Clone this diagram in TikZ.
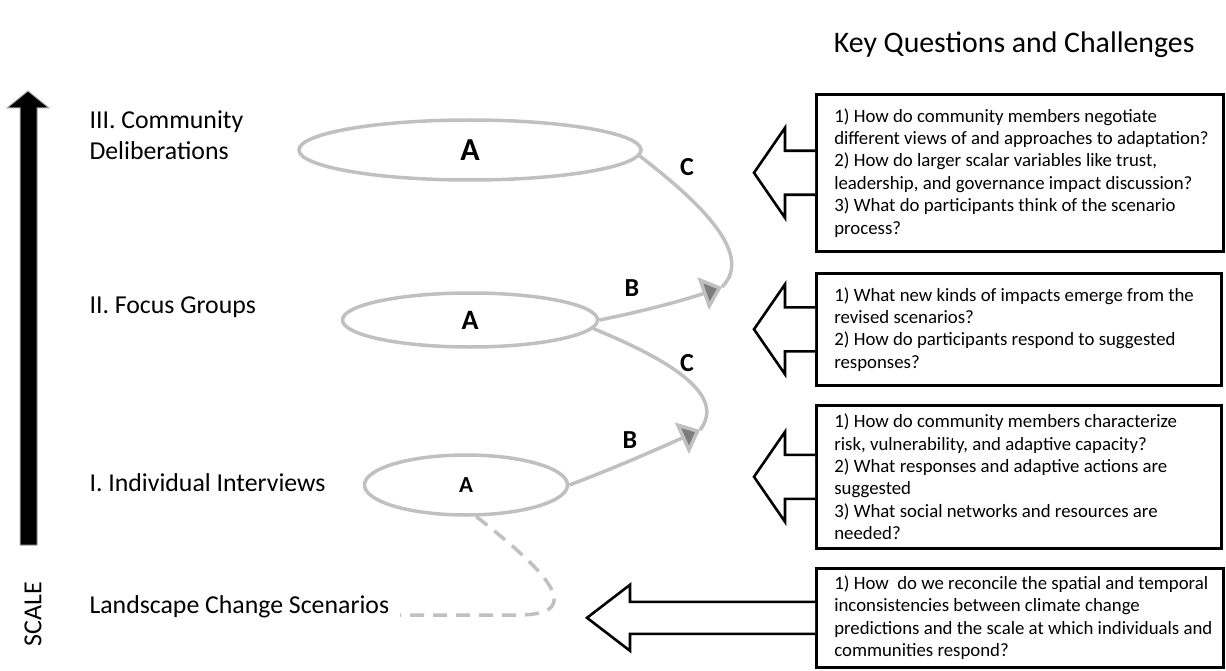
\documentclass[tikz,border=0pt]{standalone}
\usepackage{fontspec}
\setmainfont{Carlito}
\usetikzlibrary{calc,shapes.geometric,arrows.meta}
\definecolor{lgray}{RGB}{192,192,192}
\definecolor{hgray}{RGB}{125,125,125}
\newcommand\qline[1]{\mbox{#1}}
\begin{document}
\begin{tikzpicture}[x=1pt,y=-1pt,
  qbox/.style={draw=black, line width=2.6pt, anchor=north west, inner xsep=18pt, inner ysep=0pt,
    align=flush left, text width=#1, font=\fontsize{18.8}{22.4}\selectfont},
  lvl/.style={anchor=west, align=flush left, font=\fontsize{25.8}{31}\selectfont},
  oval/.style={ellipse, draw=lgray, line width=3.5pt, inner sep=0pt},
  lett/.style={font=\fontsize{26}{26}\selectfont\bfseries},
  link/.style={draw=lgray, line width=3.5pt},
  tipped/.style={link, -{Triangle[length=20pt,width=34pt,fill=hgray]}},
  blk/.style={draw=black, line width=2.6pt, fill=white, line join=miter}]
\useasboundingbox (0,0) rectangle (1226,671);

% scale arrow
\fill[black, draw=gray!70, line width=1pt] (20,545) -- (20,108) -- (7,108) -- (28,91) -- (49,108) -- (37,108) -- (37,545) -- cycle;
\node[rotate=90, font=\fontsize{26}{26}\selectfont] (scale) at (33,614) {SCALE};

% title
\node[anchor=east, font=\fontsize{29.8}{30}\selectfont] (kq) at (1198,45) {Key Questions and Challenges};

% level labels
\node[lvl] (l3) at (86,135) {III. Community\\Deliberations};
\node[lvl] (l2) at (86,307) {II. Focus Groups};
\node[lvl] (l1) at (86,483) {I. Individual Interviews};
\node[lvl] (l0) at (86,607) {Landscape Change Scenarios};

% ellipses
\node[oval, minimum width=342pt, minimum height=60pt, font=\fontsize{32}{32}\selectfont\bfseries] (e3) at (470,150) {A};
\node[oval, minimum width=255pt, minimum height=54pt, font=\fontsize{28}{28}\selectfont\bfseries] (e2) at (470,320) {A};
\node[oval, minimum width=203pt, minimum height=60pt, font=\fontsize{23}{23}\selectfont\bfseries] (e1) at (466,485) {A};

% connectors
\coordinate (t2) at (722,287);
\coordinate (t1) at (700,430);
\draw[link] (e3.-2) .. controls (690,195) and (757,252) .. (t2);
\draw[tipped] (e2.east) .. controls (640,312) and (685,300) .. (t2);
\draw[link] (e2.-4) .. controls (670,360) and (727,395) .. (t1);
\draw[tipped] (e1.east) .. controls (610,470) and (660,448) .. (t1);
\coordinate (d1) at (400,615);
\draw[link, dash pattern=on 14pt off 9pt] (e1.-72) .. controls (545,570) and (588,614) .. (520,615) -- (d1);

\node[lett] (c3) at (687,167) {C};
\node[lett] (b2) at (632,288) {B};
\node[lett] (c2) at (687,363) {C};
\node[lett] (b1) at (630,440) {B};

% question boxes
\node[qbox=371pt, minimum height=157pt] (q3) at (815,93) {\qline{1) How do community members negotiate}\\\qline{different views of and approaches to adaptation?}\\\qline{2) How do larger scalar variables like trust,}\\\qline{leadership, and governance impact discussion?}\\\qline{3) What do participants think of the scenario}\\\qline{process?}};
\node[qbox=369pt, minimum height=112pt] (q2) at (815,272) {\qline{1) What new kinds of impacts emerge from the}\\\qline{revised scenarios?}\\\qline{2) How do participants respond to suggested}\\\qline{responses?}};
\node[qbox=369pt, minimum height=143pt] (q1) at (815,404) {\qline{1) How do community members characterize}\\\qline{risk, vulnerability, and adaptive capacity?}\\\qline{2) What responses and adaptive actions are}\\\qline{suggested}\\\qline{3) What social networks and resources are}\\\qline{needed?}};
\node[qbox=371pt, minimum height=99pt] (q0) at (815,567) {\qline{1) How\ \ do we reconcile the spatial and temporal}\\\qline{inconsistencies between climate change}\\\qline{predictions and the scale at which individuals and}\\\qline{communities respond?}};

% block arrows
\foreach \q in {q3,q2,q1}{
  \draw[blk] ($(\q.west)+(0,-22)$) -- ($(\q.west)+(-30,-22)$) -- ($(\q.west)+(-30,-45)$) -- ($(\q.west)+(-61,0)$)
    -- ($(\q.west)+(-30,45)$) -- ($(\q.west)+(-30,22)$) -- ($(\q.west)+(0,22)$);
}
\draw[blk] ($(q0.west)+(0,-16)$) -- ($(q0.west)+(-185,-16)$) -- ($(q0.west)+(-185,-33)$) -- ($(q0.west)+(-228,0)$)
    -- ($(q0.west)+(-185,33)$) -- ($(q0.west)+(-185,16)$) -- ($(q0.west)+(0,16)$);
\end{tikzpicture}
\end{document}
